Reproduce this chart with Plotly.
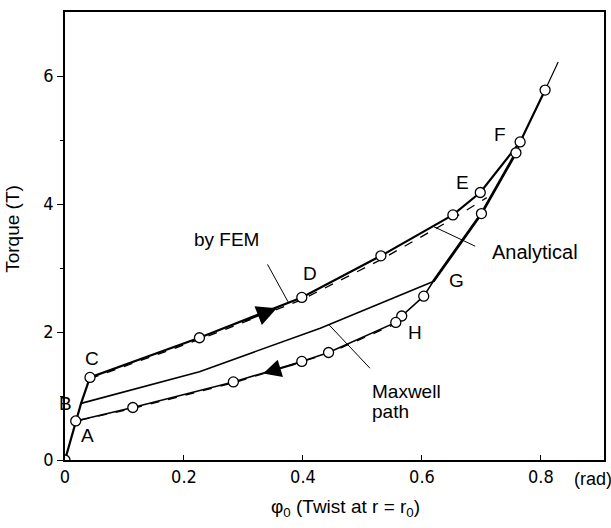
import plotly.graph_objects as go

# ---- data ----
load_x = [0.0, 0.018, 0.027, 0.042, 0.226, 0.398, 0.531, 0.652, 0.698, 0.765, 0.807, 0.829]
load_y = [0.0, 0.61, 0.885, 1.29, 1.91, 2.54, 3.19, 3.83, 4.18, 4.97, 5.78, 6.22]

unload_x = [0.770, 0.758, 0.700, 0.619, 0.603, 0.566, 0.556, 0.443, 0.398, 0.283, 0.114, 0.028, 0.018]
unload_y = [5.05, 4.80, 3.85, 2.79, 2.56, 2.25, 2.15, 1.68, 1.54, 1.22, 0.82, 0.64, 0.61]

maxwell_x = [0.027, 0.226, 0.429, 0.619]
maxwell_y = [0.885, 1.38, 2.06, 2.79]

anal_up_x = [0.042, 0.226, 0.398, 0.531, 0.641, 0.709]
anal_up_y = [1.27, 1.885, 2.505, 3.13, 3.71, 4.10]
anal_lo_x = [0.026, 0.114, 0.283, 0.443, 0.556]
anal_lo_y = [0.625, 0.805, 1.205, 1.665, 2.13]

circ_x = [0.0, 0.018, 0.042, 0.226, 0.398, 0.531, 0.652, 0.698, 0.765, 0.807,
          0.758, 0.700, 0.603, 0.566, 0.556, 0.443, 0.398, 0.283, 0.114]
circ_y = [0.0, 0.61, 1.29, 1.91, 2.54, 3.19, 3.83, 4.18, 4.97, 5.78,
          4.80, 3.85, 2.56, 2.25, 2.15, 1.68, 1.54, 1.22, 0.82]

x_ticks = [0, 0.2, 0.4, 0.6, 0.8]
x_tick_labels = ["0", "0.2", "0.4", "0.6", "0.8"]
y_ticks = [0, 2, 4, 6]
y_tick_labels = ["0", "2", "4", "6"]

point_labels = ["A", "B", "C", "D", "E", "F", "G", "H"]
point_label_x = [0.038, 0.0, 0.045, 0.412, 0.668, 0.732, 0.658, 0.588]
point_label_y = [0.39, 0.885, 1.59, 2.92, 4.33, 5.08, 2.81, 2.0]

TXT = "Liberation Sans, Arial, sans-serif"
NUM = "DejaVu Sans Condensed, Liberation Sans, sans-serif"

fig = go.Figure()

# analytical (dashed)
for ax_, ay_ in [(anal_up_x, anal_up_y), (anal_lo_x, anal_lo_y)]:
    fig.add_trace(go.Scatter(x=ax_, y=ay_, mode="lines",
                             line=dict(color="black", width=1.3, dash="dash"),
                             hoverinfo="skip", showlegend=False))

# Maxwell path
fig.add_trace(go.Scatter(x=maxwell_x, y=maxwell_y, mode="lines",
                         line=dict(color="black", width=1.6), showlegend=False))

# loading path (FEM)
fig.add_trace(go.Scatter(x=load_x[:-1], y=load_y[:-1], mode="lines",
                         line=dict(color="black", width=2.2), showlegend=False))
fig.add_trace(go.Scatter(x=load_x[-2:], y=load_y[-2:], mode="lines",
                         line=dict(color="black", width=1.2), showlegend=False))

# unloading path
fig.add_trace(go.Scatter(x=unload_x, y=unload_y, mode="lines",
                         line=dict(color="black", width=1.6), showlegend=False))
fig.add_trace(go.Scatter(x=unload_x[1:4], y=unload_y[1:4], mode="lines",
                         line=dict(color="black", width=2.8), showlegend=False))

# circles
fig.add_trace(go.Scatter(x=circ_x, y=circ_y, mode="markers",
                         marker=dict(symbol="circle", size=10, color="white",
                                     line=dict(color="black", width=1.3)),
                         showlegend=False))

ann = []
# point labels
for t, lx, ly in zip(point_labels, point_label_x, point_label_y):
    ann.append(dict(x=lx, y=ly, text=t, showarrow=False,
                    font=dict(family=TXT, size=19, color="black")))

# direction arrows
ann.append(dict(x=0.356, y=2.37, ax=0.30, ay=2.165, axref="x", ayref="y",
                xref="x", yref="y", text="", showarrow=True, arrowhead=2,
                arrowsize=2.0, arrowwidth=2, arrowcolor="black"))
ann.append(dict(x=0.333, y=1.35, ax=0.39, ay=1.51, axref="x", ayref="y",
                xref="x", yref="y", text="", showarrow=True, arrowhead=2,
                arrowsize=2.0, arrowwidth=1.8, arrowcolor="black"))

# callouts with leader lines
ann.append(dict(x=0.375, y=2.47, ax=0.339, ay=3.08, axref="x", ayref="y",
                text="", showarrow=True, arrowhead=0, arrowwidth=1, arrowcolor="black"))
ann.append(dict(x=0.272, y=3.44, text="by FEM", showarrow=False,
                font=dict(family=TXT, size=19, color="black")))

ann.append(dict(x=0.619, y=3.65, ax=0.692, ay=3.33, axref="x", ayref="y",
                text="", showarrow=True, arrowhead=0, arrowwidth=1, arrowcolor="black"))
ann.append(dict(x=0.715, y=3.25, text="Analytical", showarrow=False, xanchor="left",
                font=dict(family=TXT, size=20, color="black")))

ann.append(dict(x=0.444, y=2.11, ax=0.515, ay=1.41, axref="x", ayref="y",
                text="", showarrow=True, arrowhead=0, arrowwidth=1, arrowcolor="black"))
ann.append(dict(x=0.513, y=1.07, text="Maxwell", showarrow=False, xanchor="left",
                font=dict(family=TXT, size=19, color="black")))
ann.append(dict(x=0.513, y=0.755, text="path", showarrow=False, xanchor="left",
                font=dict(family=TXT, size=19, color="black")))

# axis titles
ann.append(dict(xref="paper", yref="paper", x=0.52, y=-0.108,
                xanchor="center", yanchor="middle",
                text="φ<sub>0</sub> (Twist at r = r<sub>0</sub>)", showarrow=False,
                font=dict(family=TXT, size=19, color="black")))
ann.append(dict(xref="paper", yref="paper", x=0.941, y=-0.042,
                xanchor="left", yanchor="middle",
                text="(rad)", showarrow=False,
                font=dict(family=TXT, size=18, color="black")))
ann.append(dict(xref="paper", yref="paper", x=-0.0965, y=0.516, textangle=-90,
                xanchor="center", yanchor="middle",
                text="Torque (T)", showarrow=False,
                font=dict(family=TXT, size=19, color="black")))

fig.update_layout(
    width=611, height=528,
    margin=dict(l=65, r=7, t=12, b=68),
    paper_bgcolor="white", plot_bgcolor="white",
    annotations=ann,
    xaxis=dict(range=[0, 0.906], tickvals=x_ticks, ticktext=x_tick_labels,
               ticks="inside", ticklen=5, tickwidth=1.2, tickcolor="black",
               showgrid=False, zeroline=False, showline=True, linecolor="black",
               linewidth=1.5, mirror=True, automargin=False,
               tickfont=dict(family=NUM, size=18, color="black")),
    yaxis=dict(range=[0, 7.0], tickvals=y_ticks, ticktext=y_tick_labels,
               ticks="outside", ticklen=6, tickwidth=1.2, tickcolor="black",
               minor=dict(tickvals=[1, 3, 5], ticks="outside", ticklen=3,
                          tickcolor="black", tickwidth=1),
               showgrid=False, zeroline=False, showline=True, linecolor="black",
               linewidth=1.5, mirror=True, automargin=False,
               tickfont=dict(family=NUM, size=18, color="black")),
)

fig.write_html("out.html",
               config={"displayModeBar": False},
               post_script="document.body.style.margin='0px';"
                           "document.body.style.overflow='hidden';")
